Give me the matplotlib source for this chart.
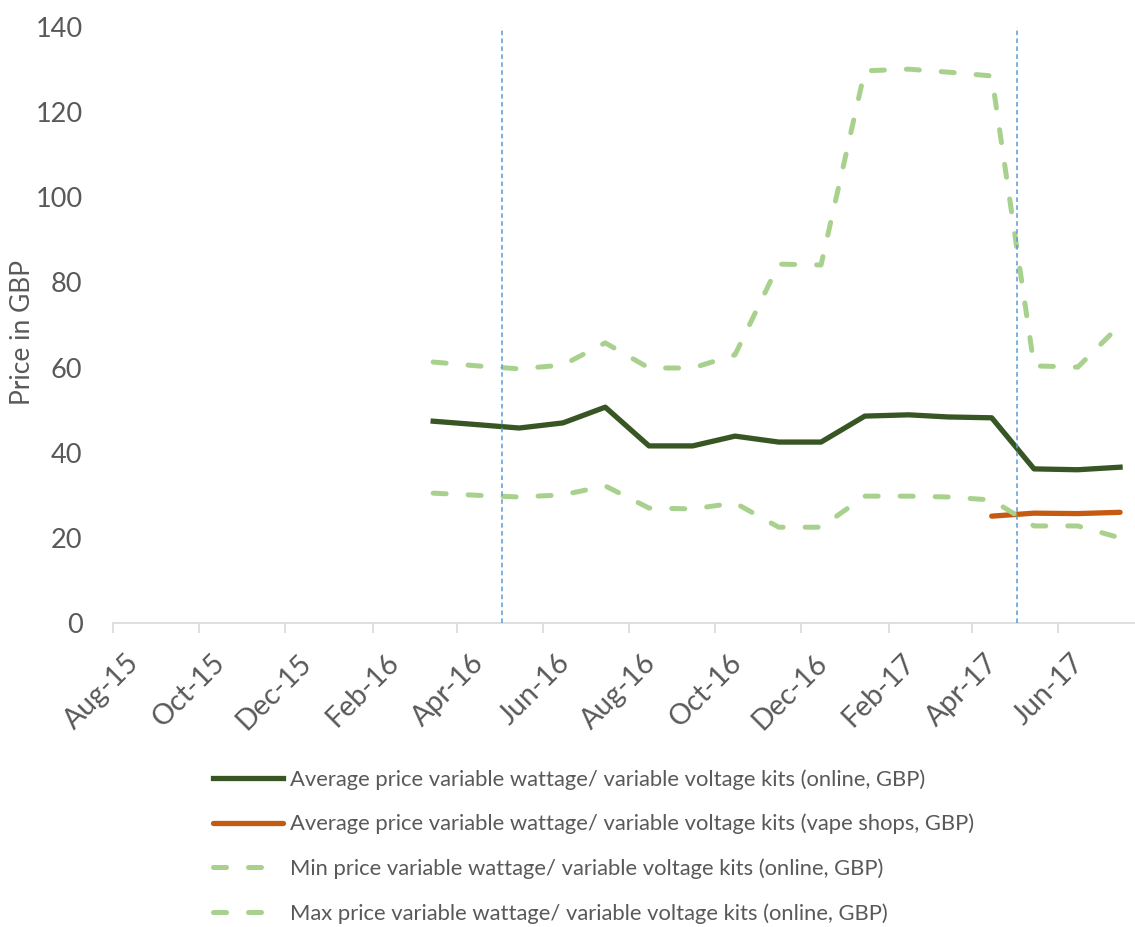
import numpy as np
import pandas as pd
import matplotlib
matplotlib.use("Agg")
import matplotlib.pyplot as plt
import matplotlib.dates as mdates
from matplotlib.transforms import ScaledTranslation

plt.rcParams['font.family'] = ['Lato', 'DejaVu Sans']

# monthly observations (plotted mid-month)
dates = pd.to_datetime([
    "2016-03-15", "2016-04-15", "2016-05-15", "2016-06-15", "2016-07-15",
    "2016-08-15", "2016-09-15", "2016-10-15", "2016-11-15", "2016-12-15",
    "2017-01-15", "2017-02-15", "2017-03-15", "2017-04-15", "2017-05-15",
    "2017-06-15", "2017-07-15",
])
avg_online = [47.4, 46.6, 45.8, 47.0, 50.7, 41.6, 41.6, 43.9, 42.5, 42.5,
              48.6, 48.9, 48.4, 48.2, 36.2, 36.0, 36.6]
min_online = [30.5, 30.0, 29.6, 30.1, 32.2, 27.0, 26.8, 28.2, 22.5, 22.5,
              29.8, 29.8, 29.6, 28.9, 22.8, 22.8, 20.0]
max_online = [61.3, 60.4, 59.7, 60.6, 65.8, 59.9, 59.9, 63.0, 84.3, 84.1,
              129.7, 130.1, 129.4, 128.5, 60.4, 60.1, 70.0]

shop_dates = dates[-4:]
avg_shops = [25.1, 25.8, 25.7, 26.0]

# policy change markers
events = pd.to_datetime(["2016-05-03", "2017-05-03"])

labels = [
    "Average price variable wattage/ variable voltage kits (online, GBP)",
    "Average price variable wattage/ variable voltage kits (vape shops, GBP)",
    "Min price variable wattage/ variable voltage kits (online, GBP)",
    "Max price variable wattage/ variable voltage kits (online, GBP)",
]

grey = "#595959"
dark_green = "#375623"
orange = "#C55A11"
light_green = "#A9D18E"

fig = plt.figure(figsize=(11.35, 9.27), dpi=100)
ax = fig.add_axes([113 / 1135, 1 - 623 / 927, 1022 / 1135, 596 / 927])

ax.plot(dates, avg_online, color=dark_green, lw=3.8, solid_joinstyle='round',
        label=labels[0], zorder=3)
ax.plot(shop_dates, avg_shops, color=orange, lw=3.8, solid_capstyle='round',
        label=labels[1], zorder=3)
ax.plot(dates, min_online, color=light_green, lw=3.6, dashes=(2.6, 4.4),
        dash_capstyle='round', label=labels[2], zorder=4)
ax.plot(dates, max_online, color=light_green, lw=3.6, dashes=(2.6, 4.4),
        dash_capstyle='round', label=labels[3], zorder=4)

for d in events:
    ax.plot([d, d], [0, 140], color="#5B9BD5", lw=1.1, dashes=(3, 2.2), zorder=5)

ax.set_xlim(pd.Timestamp("2015-08-01"), pd.Timestamp("2017-07-25 14:00"))
ax.set_ylim(0, 140)
ax.set_yticks(np.arange(0, 141, 20))

ax.xaxis.set_major_locator(mdates.MonthLocator(bymonth=[2, 4, 6, 8, 10, 12]))
ax.xaxis.set_major_formatter(mdates.DateFormatter('%b-%y'))

for s in ['top', 'right', 'left']:
    ax.spines[s].set_visible(False)
ax.spines['bottom'].set_color("#D9D9D9")
ax.spines['bottom'].set_linewidth(1.2)

ax.tick_params(axis='y', length=0, pad=22, labelsize=19.5, labelcolor=grey)
ax.tick_params(axis='x', length=7, width=1.2, color="#D9D9D9", pad=12,
               labelsize=20.5, labelcolor=grey)
shift = ScaledTranslation(13 / 100, 0, fig.dpi_scale_trans)
for lbl in ax.get_xticklabels():
    lbl.set_rotation(45)
    lbl.set_ha('right')
    lbl.set_rotation_mode('anchor')
    lbl.set_transform(lbl.get_transform() + shift)

ax.set_ylabel("Price in GBP", fontsize=19, color=grey, va='center')
ax.yaxis.set_label_coords(-0.089, 0.487)

fig.legend(loc='upper left', bbox_to_anchor=(213 / 1135, 1 - 769 / 927),
           frameon=False, fontsize=15.8, labelcolor=grey, handlelength=3.2,
           handletextpad=0.32, labelspacing=1.1, borderpad=0, borderaxespad=0)

fig.savefig("out.png", dpi=100)
